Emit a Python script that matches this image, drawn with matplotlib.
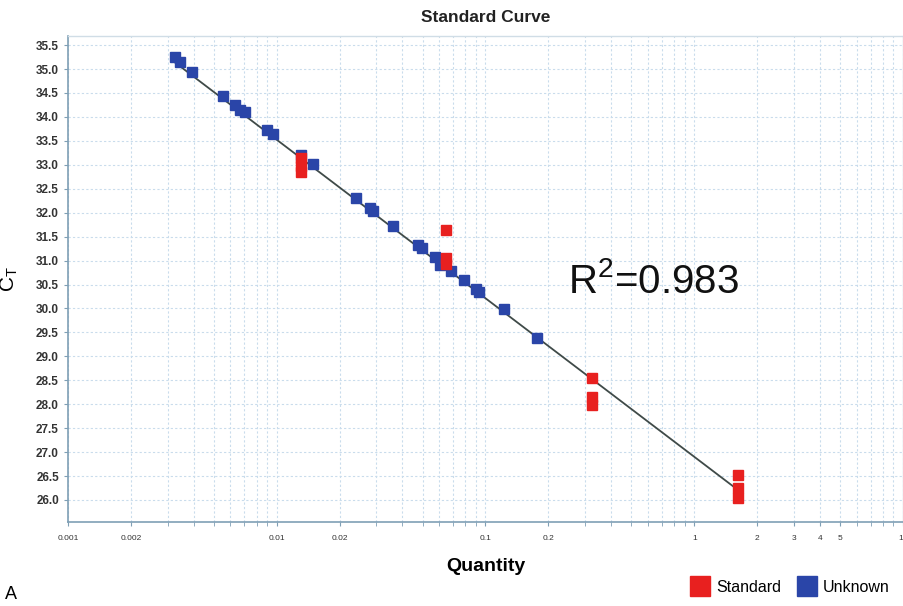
from __future__ import annotations

import numpy as np

import matplotlib

matplotlib.use("Agg")
import matplotlib.pyplot as plt
from matplotlib.lines import Line2D
from matplotlib.ticker import FixedLocator, NullFormatter


# standards: 5-fold dilution series, three replicates each
STD_QTY = [1.625, 1.625, 1.625, 0.325, 0.325, 0.325, 0.065, 0.065, 0.065, 0.013, 0.013, 0.013]
STD_CT = [26.52, 26.25, 26.05, 28.55, 28.15, 27.98, 31.64, 31.05, 30.93, 33.15, 32.98, 32.85]

# unknowns
UNK_QTY = [0.00325, 0.00343, 0.00392, 0.00552, 0.00630, 0.00665, 0.00703, 0.00896, 0.00957,
           0.01302, 0.01486, 0.0239, 0.0279, 0.0288, 0.0359, 0.0473, 0.0494, 0.0570,
           0.0603, 0.0681, 0.0785, 0.0896, 0.0927, 0.1233, 0.1774]
UNK_CT = [35.25, 35.15, 34.94, 34.44, 34.25, 34.14, 34.10, 33.73, 33.64,
          33.20, 33.02, 32.31, 32.10, 32.03, 31.72, 31.32, 31.26, 31.07,
          30.91, 30.78, 30.59, 30.41, 30.34, 29.99, 29.38]

R2_TEXT = "R$^2$=0.983"

X_LABELED = [0.001, 0.002, 0.01, 0.02, 0.1, 0.2, 1, 2, 3, 4, 5, 10]
X_LABELS = ["0.001", "0.002", "0.01", "0.02", "0.1", "0.2", "1", "2", "3", "4", "5", "10"]
Y_TICKS = np.arange(26.0, 35.51, 0.5)

RED = "#e8201f"
BLUE = "#2a45a8"
FRAME = "#7f9fb5"
GRID = "#c9dcec"


def main() -> None:
    plt.rcParams["font.family"] = ["Liberation Sans", "DejaVu Sans"]
    plt.rcParams["mathtext.default"] = "regular"

    fig = plt.figure(figsize=(9.04, 6.06), dpi=100)
    ax = fig.add_axes([68 / 904, 1 - 522 / 606, 835 / 904, 486 / 606])

    ax.set_xscale("log")
    ax.set_xlim(0.001, 10)
    ax.set_ylim(25.54, 35.69)

    # regression line through the standards, spanning all samples
    slope, intercept = np.polyfit(np.log10(STD_QTY), STD_CT, 1)
    all_q = np.array(STD_QTY + UNK_QTY)
    lx = np.array([all_q.min(), all_q.max()])
    ax.plot(lx, slope * np.log10(lx) + intercept, color="#3f4a48", lw=1.3, zorder=2)

    ax.plot(UNK_QTY, UNK_CT, "s", color=BLUE, ms=7, mec=BLUE, zorder=3, ls="none")
    ax.plot(STD_QTY, STD_CT, "s", color=RED, ms=6.5, mec=RED, zorder=4, ls="none")

    # ticks
    minor = [m * 10.0 ** e for e in range(-3, 1) for m in range(2, 10)]
    ax.xaxis.set_major_locator(FixedLocator(X_LABELED))
    ax.set_xticklabels(X_LABELS)
    ax.xaxis.set_minor_locator(FixedLocator(minor))
    ax.xaxis.set_minor_formatter(NullFormatter())
    ax.set_yticks(Y_TICKS)
    ax.set_yticklabels([f"{v:.1f}" for v in Y_TICKS])
    ax.tick_params(axis="x", which="both", labelsize=6, colors=FRAME, labelcolor="#333333",
                   length=3, pad=6)
    ax.tick_params(axis="y", labelsize=8.5, colors=FRAME, labelcolor="#333333", length=3)
    for lab in ax.get_yticklabels():
        lab.set_fontweight("bold")

    ax.grid(True, which="both", axis="x", color=GRID, ls=(0, (2, 2)), lw=0.8)
    ax.grid(True, which="major", axis="y", color=GRID, ls=(0, (2, 2)), lw=0.8)
    ax.set_axisbelow(True)
    for side in ("left", "bottom"):
        ax.spines[side].set_color(FRAME)
        ax.spines[side].set_linewidth(1.2)
    for side in ("top", "right"):
        ax.spines[side].set_color("#d0dde6")
        ax.spines[side].set_linewidth(1.0)

    ax.set_title("Standard Curve", fontsize=12.5, fontweight="bold", color="#222222", pad=10)
    ax.set_xlabel("Quantity", fontsize=14, fontweight="bold", labelpad=12)
    ax.set_ylabel("C$_T$", fontsize=15)
    ax.yaxis.set_label_coords(-0.058, 0.5)

    ax.text(0.599, 0.494, R2_TEXT, transform=ax.transAxes, fontsize=29, va="center",
            ha="left", color="#111111")

    handles = [
        Line2D([], [], marker="s", ls="none", color=RED, ms=14, label="Standard"),
        Line2D([], [], marker="s", ls="none", color=BLUE, ms=14, label="Unknown"),
    ]
    fig.legend(handles=handles, loc="lower right", bbox_to_anchor=(1.0, -0.005), ncol=2,
               frameon=False, fontsize=11.5, handletextpad=0.4, columnspacing=1.0,
               handlelength=1.2)
    fig.text(0.006, 0.005, "A", fontsize=13, ha="left", va="bottom")

    fig.savefig("out.png", dpi=100)
    plt.close(fig)


if __name__ == "__main__":
    main()
